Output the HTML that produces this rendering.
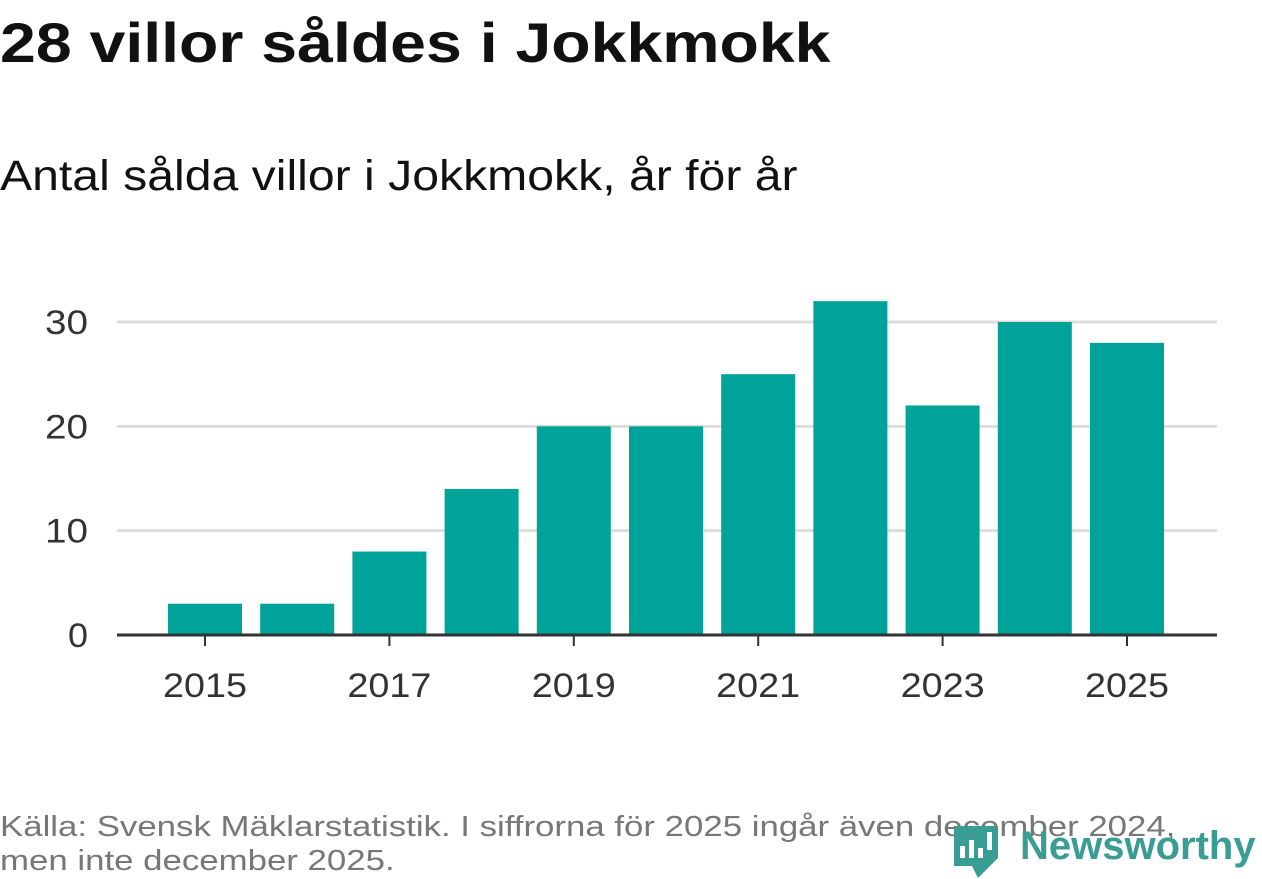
<!DOCTYPE html>
<html><head><meta charset="utf-8"><style>
body{margin:0;width:1262px;height:879px;background:#fff;font-family:"Liberation Sans",sans-serif;overflow:hidden;position:relative}
.t{position:absolute;white-space:nowrap;transform-origin:0 0}
</style></head><body>
<div class="t" style="left:0;top:10px;font-size:56px;font-weight:bold;color:#111;transform:scaleX(1.15)">28 villor såldes i Jokkmokk</div>
<div class="t" style="left:0;top:152px;font-size:43px;color:#111;transform:scaleX(1.12)">Antal sålda villor i Jokkmokk, år för år</div>
<svg id="c" width="1262" height="879" style="position:absolute;left:0;top:0"></svg>
<div class="t" style="left:0;top:810px;font-size:29px;line-height:34px;color:#777;transform:scaleX(1.2)">Källa: Svensk Mäklarstatistik. I siffrorna för 2025 ingår även december 2024,<br>men inte december 2025.</div>
<div style="position:absolute;left:952px;top:822px;width:310px;height:57px">
<svg width="50" height="57" style="position:absolute;left:0;top:0"><path d="M2 4 H46 V36 L26 56 L20 44 H2 Z" fill="#3a9d94"/><rect x="8" y="24" width="5" height="12" fill="#fff"/><rect x="17" y="18" width="5" height="18" fill="#fff"/><rect x="26" y="26" width="5" height="10" fill="#fff"/><rect x="35" y="10" width="5" height="18" fill="#fff"/></svg>
<div class="t" style="left:68px;top:2px;font-size:40px;font-weight:bold;color:#3a9d94">Newsworthy</div></div>
<script>
const years=[2015,2016,2017,2018,2019,2020,2021,2022,2023,2024,2025];
const values=[3,3,8,14,20,20,25,32,22,30,28];
const yTicks=[0,10,20,30];
const svg=document.getElementById('c'),NS='http://www.w3.org/2000/svg';
const y=v=>635-v*10.433, x=yr=>205+(yr-2015)*92.2;
function el(t,a){const e=document.createElementNS(NS,t);for(const k in a)e.setAttribute(k,a[k]);svg.appendChild(e);return e;}
yTicks.forEach(v=>{
 if(v>0){const g=el('line',{x1:117,x2:1217,y1:y(v),y2:y(v),stroke:'#ddd','stroke-width':3});
 
 }
 const t=el('text',{x:88,y:y(v)+12,'text-anchor':'end','font-size':34,'textLength':v>0?43:20,lengthAdjust:'spacingAndGlyphs',fill:'#333','font-family':'Liberation Sans'});
 t.textContent=v;
 
 
});
years.forEach((yr,i)=>{
 const r=el('rect',{x:x(yr)-37,y:y(values[i]),width:74,height:635-y(values[i]),fill:'#00a39a'});
 
 
 if((yr-2015)%2===0){
  const tk=el('line',{x1:x(yr),x2:x(yr),y1:635,y2:646,stroke:'#333','stroke-width':2});
  
  
  const t=el('text',{x:x(yr)-42,y:697,'font-size':34,textLength:84,lengthAdjust:'spacingAndGlyphs',fill:'#333','font-family':'Liberation Sans'});
  t.textContent=yr;
  
  
 }
});
const ax=el('line',{x1:117,x2:1217,y1:635,y2:635,stroke:'#333','stroke-width':3});


</script>
</body></html>
